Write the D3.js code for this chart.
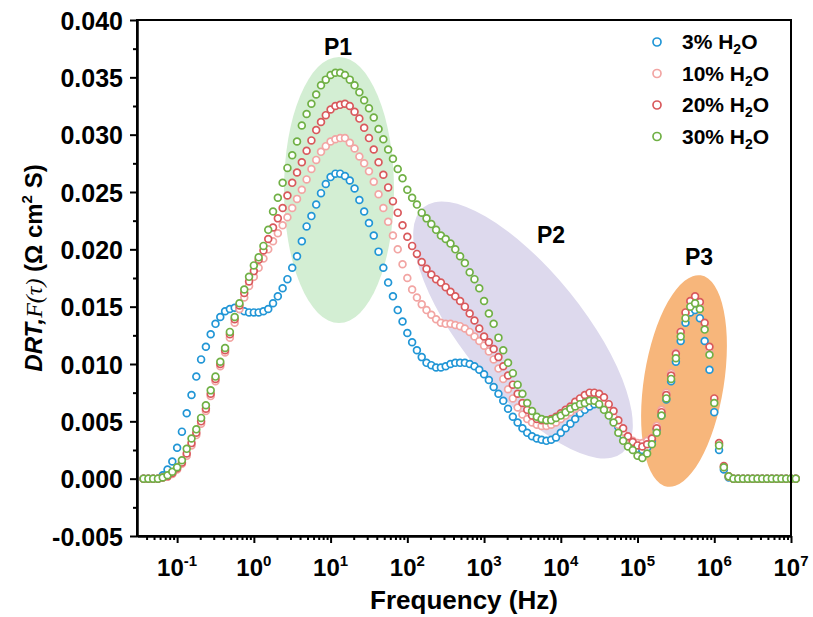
<!DOCTYPE html>
<html>
<head>
<meta charset="utf-8">
<script src="https://cdn.jsdelivr.net/npm/d3@7"></script>
<style>
  body { margin: 0; background: #fff; }
  svg text { font-family: Arial, 'Liberation Sans', sans-serif; font-weight: bold; fill: #000; }
  .axis path, .axis line { stroke: #000; stroke-width: 2; }
</style>
</head>
<body>
<div id="graph-container"></div>
<script>
const width = 813;
const height = 617;
const margins = {top: 20, right: 22, bottom: 81, left: 137};

// log10 of frequency (Hz) for every sample
const logFreq = [
  -1.4375, -1.375, -1.3125, -1.25, -1.1875, -1.125, -1.0625,
  -1, -0.9375, -0.875, -0.8125, -0.75, -0.6875, -0.625, -0.5625, -0.5, -0.4375, -0.375, -0.3125, -0.25, -0.1875, -0.125, -0.0625,
  0, 0.0625, 0.125, 0.1875, 0.25, 0.3125, 0.375, 0.4375, 0.5, 0.5625, 0.625, 0.6875, 0.75, 0.8125, 0.875, 0.9375,
  1, 1.0625, 1.125, 1.1875, 1.25, 1.3125, 1.375, 1.4375, 1.5, 1.5625, 1.625, 1.6875, 1.75, 1.8125, 1.875, 1.9375,
  2, 2.0625, 2.125, 2.1875, 2.25, 2.3125, 2.375, 2.4375, 2.5, 2.5625, 2.625, 2.6875, 2.75, 2.8125, 2.875, 2.9375,
  3, 3.0625, 3.125, 3.1875, 3.25, 3.3125, 3.375, 3.4375, 3.5, 3.5625, 3.625, 3.6875, 3.75, 3.8125, 3.875, 3.9375,
  4, 4.0625, 4.125, 4.1875, 4.25, 4.3125, 4.375, 4.4375, 4.5, 4.5625, 4.625, 4.6875, 4.75, 4.8125, 4.875, 4.9375,
  5, 5.0625, 5.125, 5.1875, 5.25, 5.3125, 5.375, 5.4375, 5.5, 5.5625, 5.625, 5.6875, 5.75, 5.8125, 5.875, 5.9375,
  6, 6.0625, 6.125, 6.1875, 6.25, 6.3125, 6.375, 6.4375, 6.5, 6.5625, 6.625, 6.6875, 6.75, 6.8125, 6.875, 6.9375,
  7, 7.0625
];

const drt3 = [
  0, 0, 0, 0, 0.0003, 0.0008, 0.0015,
  0.0027, 0.0041, 0.0057, 0.0073, 0.0089, 0.0104, 0.0115, 0.0126, 0.0135, 0.0141, 0.0146, 0.0148, 0.0149, 0.0148, 0.0146, 0.0145,
  0.0145, 0.0145, 0.0146, 0.0148, 0.0153, 0.0159, 0.0166, 0.0174, 0.0184, 0.0194, 0.0207, 0.0220, 0.0229, 0.0239, 0.0249, 0.0257,
  0.0263, 0.0266, 0.0266, 0.0264, 0.0260, 0.0253, 0.0243, 0.0233, 0.0223, 0.0212, 0.0198, 0.0184, 0.0171, 0.0159, 0.0147, 0.0137,
  0.0127, 0.0119, 0.0112, 0.0106, 0.0101, 0.0099, 0.0097, 0.0097, 0.0098, 0.0100, 0.0101, 0.0101, 0.0101, 0.0100, 0.0098, 0.0095,
  0.0091, 0.0086, 0.0080, 0.0074, 0.0068, 0.0061, 0.0054, 0.0049, 0.0044, 0.0040, 0.0037, 0.0035, 0.0034, 0.0033, 0.0034, 0.0036,
  0.0040, 0.0044, 0.0048, 0.0052, 0.0057, 0.0060, 0.0063, 0.0065, 0.0065, 0.0063, 0.0058, 0.0052, 0.0045, 0.0038, 0.0033, 0.0029,
  0.0026, 0.0025, 0.0027, 0.0033, 0.0043, 0.0055, 0.0069, 0.0085, 0.0102, 0.0120, 0.0136, 0.0145, 0.0147, 0.0140, 0.0120, 0.0095,
  0.0058, 0.0025, 0.0008, 0.0001, 0, 0, 0, 0, 0, 0, 0, 0, 0, 0, 0, 0,
  0, 0
];

const drt10 = [
  0, 0, 0, 0, 0.0001, 0.0002, 0.0004,
  0.0008, 0.0013, 0.0020, 0.0029, 0.0038, 0.0048, 0.0059, 0.0072, 0.0085, 0.0098, 0.0110, 0.0123, 0.0136, 0.0148, 0.0158, 0.0168,
  0.0176, 0.0184, 0.0192, 0.0200, 0.0207, 0.0214, 0.0221, 0.0228, 0.0236, 0.0244, 0.0252, 0.0261, 0.0270, 0.0278, 0.0285, 0.0290,
  0.0294, 0.0296, 0.0297, 0.0297, 0.0293, 0.0288, 0.0281, 0.0275, 0.0268, 0.0259, 0.0248, 0.0236, 0.0224, 0.0212, 0.0200, 0.0187,
  0.0175, 0.0165, 0.0158, 0.0152, 0.0147, 0.0143, 0.0139, 0.0136, 0.0135, 0.0135, 0.0134, 0.0133, 0.0131, 0.0128, 0.0124, 0.0120,
  0.0116, 0.0111, 0.0104, 0.0096, 0.0087, 0.0078, 0.0070, 0.0062, 0.0056, 0.0052, 0.0049, 0.0047, 0.0046, 0.0046, 0.0047, 0.0049,
  0.0052, 0.0055, 0.0058, 0.0061, 0.0063, 0.0066, 0.0068, 0.0069, 0.0068, 0.0065, 0.0060, 0.0054, 0.0047, 0.0041, 0.0036, 0.0033,
  0.0031, 0.0031, 0.0033, 0.0036, 0.0046, 0.0060, 0.0075, 0.0092, 0.0110, 0.0128, 0.0144, 0.0154, 0.0157, 0.0151, 0.0133, 0.0111,
  0.0067, 0.0030, 0.0010, 0.0002, 0, 0, 0, 0, 0, 0, 0, 0, 0, 0, 0, 0,
  0, 0
];

const drt20 = [
  0, 0, 0, 0, 0.0001, 0.0002, 0.0005,
  0.0009, 0.0014, 0.0022, 0.0031, 0.0040, 0.0050, 0.0061, 0.0074, 0.0087, 0.0100, 0.0112, 0.0126, 0.0139, 0.0151, 0.0162, 0.0172,
  0.0181, 0.0191, 0.0199, 0.0209, 0.0219, 0.0227, 0.0236, 0.0247, 0.0258, 0.0267, 0.0276, 0.0286, 0.0295, 0.0304, 0.0311, 0.0317,
  0.0322, 0.0325, 0.0326, 0.0327, 0.0325, 0.0320, 0.0314, 0.0306, 0.0297, 0.0287, 0.0276, 0.0265, 0.0254, 0.0242, 0.0232, 0.0221,
  0.0211, 0.0203, 0.0196, 0.0189, 0.0183, 0.0178, 0.0174, 0.0171, 0.0167, 0.0163, 0.0159, 0.0155, 0.0150, 0.0144, 0.0138, 0.0131,
  0.0124, 0.0119, 0.0113, 0.0106, 0.0098, 0.0090, 0.0082, 0.0074, 0.0066, 0.0060, 0.0055, 0.0052, 0.0051, 0.0051, 0.0052, 0.0054,
  0.0057, 0.0060, 0.0063, 0.0067, 0.0070, 0.0073, 0.0075, 0.0075, 0.0074, 0.0071, 0.0065, 0.0059, 0.0051, 0.0044, 0.0037, 0.0032,
  0.0029, 0.0028, 0.0030, 0.0035, 0.0044, 0.0058, 0.0073, 0.0090, 0.0109, 0.0128, 0.0145, 0.0155, 0.0159, 0.0154, 0.0136, 0.0115,
  0.0070, 0.0031, 0.0011, 0.0002, 0, 0, 0, 0, 0, 0, 0, 0, 0, 0, 0, 0,
  0, 0
];

const drt30 = [
  0, 0, 0, 0, 0.0001, 0.0003, 0.0006,
  0.0010, 0.0016, 0.0026, 0.0035, 0.0043, 0.0053, 0.0064, 0.0077, 0.0089, 0.0102, 0.0114, 0.0128, 0.0141, 0.0153, 0.0165, 0.0176,
  0.0186, 0.0193, 0.0203, 0.0217, 0.0233, 0.0245, 0.0258, 0.0271, 0.0282, 0.0294, 0.0308, 0.0318, 0.0327, 0.0335, 0.0343, 0.0348,
  0.0352, 0.0354, 0.0354, 0.0352, 0.0348, 0.0343, 0.0337, 0.0330, 0.0323, 0.0315, 0.0305, 0.0296, 0.0287, 0.0279, 0.0270, 0.0262,
  0.0252, 0.0245, 0.0239, 0.0232, 0.0227, 0.0222, 0.0217, 0.0212, 0.0209, 0.0205, 0.0200, 0.0194, 0.0188, 0.0180, 0.0174, 0.0166,
  0.0155, 0.0144, 0.0135, 0.0123, 0.0112, 0.0101, 0.0092, 0.0082, 0.0074, 0.0066, 0.0059, 0.0054, 0.0052, 0.0051, 0.0051, 0.0053,
  0.0055, 0.0058, 0.0061, 0.0063, 0.0065, 0.0066, 0.0068, 0.0068, 0.0065, 0.0060, 0.0055, 0.0049, 0.0040, 0.0033, 0.0028, 0.0025,
  0.0020, 0.0018, 0.0022, 0.0030, 0.0040, 0.0055, 0.0070, 0.0087, 0.0105, 0.0124, 0.0140, 0.0150, 0.0153, 0.0148, 0.0130, 0.0108,
  0.0066, 0.0029, 0.0010, 0.0002, 0, 0, 0, 0, 0, 0, 0, 0, 0, 0, 0, 0,
  0, 0
];

const seriesNames = ['3%', '10%', '20%', '30%'];
const seriesColors = ['#2196d6', '#f2a5a3', '#d9595c', '#70b045'];
const seriesValues = [drt3, drt10, drt20, drt30];

const xTicks = [1e-1, 1e0, 1e1, 1e2, 1e3, 1e4, 1e5, 1e6, 1e7];
const xTickExps = ['-1', '0', '1', '2', '3', '4', '5', '6', '7'];
const yTicks = [-0.005, 0, 0.005, 0.010, 0.015, 0.020, 0.025, 0.030, 0.035, 0.040];

const peakNames = ['P1', 'P2', 'P3'];

const x = d3.scaleLog()
            .domain([0.03, 1e7])
            .range([margins.left, width - margins.right]);
const y = d3.scaleLinear()
            .domain([-0.005, 0.040])
            .range([height - margins.bottom, margins.top]);

const svg = d3.select('#graph-container')
              .append('svg')
              .attr('width', width)
              .attr('height', height);

// shaded regions behind the peaks
drawEllipse(svg, 339, 190, 55, 133, 0, '#d3eed3');
drawEllipse(svg, 523, 330, 158, 60, 51, '#ddd9ed');
drawEllipse(svg, 684, 381, 40, 107, 9, '#f7b67b');

// points, lowest series first
seriesValues.forEach(function(vals, i) {
  svg.append('g')
     .selectAll('circle')
     .data(vals)
     .enter()
     .append('circle')
     .attr('cx', (d, j) => x(Math.pow(10, logFreq[j])))
     .attr('cy', (d) => y(d))
     .attr('r', 3.4)
     .attr('fill', '#fff')
     .attr('stroke', seriesColors[i])
     .attr('stroke-width', 1.7);
});

drawAxes(svg);
drawLegend(svg);

// peak labels
const peakPos = [[338, 55], [551, 243], [699, 265]];
peakNames.forEach(function(name, i) {
  svg.append('text')
     .attr('x', peakPos[i][0])
     .attr('y', peakPos[i][1])
     .attr('text-anchor', 'middle')
     .style('font-size', '23px')
     .text(name);
});

function drawEllipse(el, cx, cy, rx, ry, angle, color) {
  el.append('ellipse')
    .attr('cx', cx)
    .attr('cy', cy)
    .attr('rx', rx)
    .attr('ry', ry)
    .attr('transform', 'rotate(' + angle + ',' + cx + ',' + cy + ')')
    .attr('fill', color);
}

function drawAxes(el) {
  const bottom = height - margins.bottom;

  // minor ticks
  let xMinor = [];
  for (let e = -2; e < 7; e++) {
    for (let m = 2; m < 10; m++) {
      let v = m * Math.pow(10, e);
      if (v > 0.03 && v < 1e7) xMinor.push(v);
    }
  }
  let yMinor = yTicks.slice(0, -1).map((v) => v + 0.0025);

  el.append('g')
    .attr('class', 'axis')
    .attr('transform', 'translate(0,' + bottom + ')')
    .call(d3.axisBottom(x).tickValues(xMinor).tickSize(4).tickSizeOuter(0).tickFormat(''));

  el.append('g')
    .attr('class', 'axis')
    .attr('transform', 'translate(0,' + bottom + ')')
    .call(d3.axisBottom(x).tickValues(xTicks).tickSize(7).tickSizeOuter(0).tickFormat(''));

  el.append('g')
    .attr('class', 'axis')
    .attr('transform', 'translate(' + margins.left + ',0)')
    .call(d3.axisLeft(y).tickValues(yMinor).tickSize(4).tickSizeOuter(0).tickFormat(''));

  let yAxis = el.append('g')
                .attr('class', 'axis')
                .attr('transform', 'translate(' + margins.left + ',0)')
                .call(d3.axisLeft(y).tickValues(yTicks).tickSize(7).tickSizeOuter(0)
                        .tickPadding(7).tickFormat((d) => d.toFixed(3)));
  yAxis.selectAll('text')
       .style('font-size', '25px')
       .attr('dy', '0.36em');

  // 10^n labels
  xTicks.forEach(function(v, i) {
    let t = el.append('text')
              .attr('x', x(v))
              .attr('y', bottom + 40)
              .attr('text-anchor', 'middle')
              .style('font-size', '24px');
    t.append('tspan').text('10');
    t.append('tspan')
     .attr('dy', -10)
     .style('font-size', '15px')
     .text(xTickExps[i]);
  });

  // frame
  el.append('rect')
    .attr('x', margins.left)
    .attr('y', margins.top)
    .attr('width', width - margins.left - margins.right)
    .attr('height', bottom - margins.top)
    .attr('fill', 'none')
    .attr('stroke', '#000')
    .attr('stroke-width', 2);

  // axis titles
  el.append('text')
    .attr('x', (margins.left + width - margins.right) / 2)
    .attr('y', 609)
    .attr('text-anchor', 'middle')
    .style('font-size', '26px')
    .text('Frequency (Hz)');

  let yl = el.append('text')
             .attr('transform', 'translate(42,268) rotate(-90)')
             .attr('text-anchor', 'middle')
             .style('font-size', '24px');
  yl.append('tspan').style('font-style', 'italic').text('DRT,');
  yl.append('tspan')
    .style('font-family', "'Liberation Serif', 'Times New Roman', serif")
    .style('font-style', 'italic')
    .style('font-weight', 'normal')
    .text('F(τ)');
  yl.append('tspan').text(' (Ω cm');
  yl.append('tspan').attr('dy', -10).style('font-size', '15px').text('2');
  yl.append('tspan').attr('dy', 10).text(' S)');
}

function drawLegend(el) {
  seriesNames.forEach(function(name, i) {
    let cy = 42 + i * 31.5;
    el.append('circle')
      .attr('cx', 657)
      .attr('cy', cy)
      .attr('r', 4)
      .attr('fill', '#fff')
      .attr('stroke', seriesColors[i])
      .attr('stroke-width', 1.7);
    let t = el.append('text')
              .attr('x', 682)
              .attr('y', cy + 7)
              .style('font-size', '21px');
    t.append('tspan').text(name + ' H');
    t.append('tspan').attr('dy', 5).style('font-size', '14px').text('2');
    t.append('tspan').attr('dy', -5).text('O');
  });
}
</script>
</body>
</html>
